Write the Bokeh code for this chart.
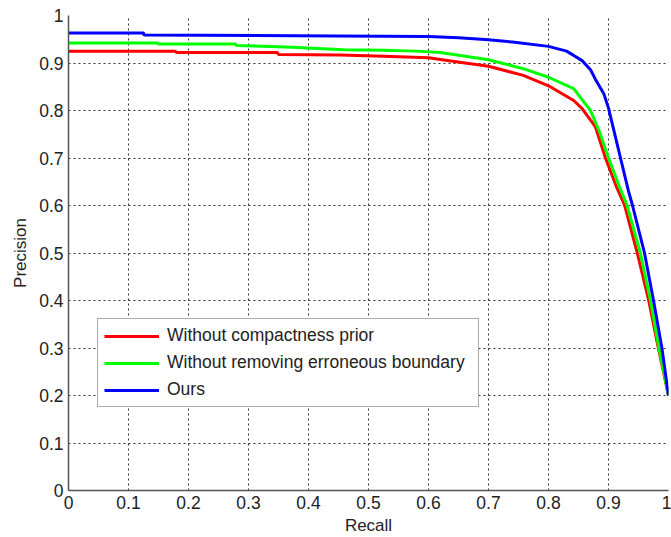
from bokeh.plotting import figure
from bokeh.models import Legend, LegendItem, FixedTicker, Range1d
from bokeh.embed import file_html
from bokeh.resources import INLINE

# Data
ours_recall = [0, 0.125, 0.126, 0.445, 0.6, 0.65, 0.7, 0.74, 0.8, 0.83, 0.842, 0.856,
               0.87, 0.878, 0.892, 0.9, 0.92, 0.933, 0.94, 0.96, 0.975, 0.989, 1.0]
ours_precision = [0.963, 0.963, 0.959, 0.957, 0.956, 0.953, 0.949, 0.944, 0.935, 0.925, 0.916, 0.905,
                  0.886, 0.866, 0.836, 0.805, 0.7, 0.632, 0.6, 0.5, 0.4, 0.3, 0.2]

noremove_recall = [0, 0.148, 0.15, 0.278, 0.28, 0.373, 0.458, 0.525, 0.58, 0.62, 0.7, 0.758,
                   0.8, 0.842, 0.856, 0.87, 0.885, 0.9, 0.918, 0.931, 0.953, 0.97, 0.984, 1.0]
noremove_precision = [0.942, 0.942, 0.940, 0.940, 0.937, 0.933, 0.928, 0.927, 0.925, 0.922, 0.907, 0.888,
                      0.87, 0.846, 0.823, 0.8, 0.755, 0.7, 0.64, 0.6, 0.5, 0.4, 0.3, 0.2]

nocompact_recall = [0, 0.178, 0.18, 0.348, 0.35, 0.453, 0.525, 0.6, 0.637, 0.7, 0.758, 0.8,
                    0.842, 0.856, 0.878, 0.895, 0.913, 0.927, 0.948, 0.967, 0.983, 1.0]
nocompact_precision = [0.925, 0.925, 0.922, 0.922, 0.918, 0.917, 0.914, 0.911, 0.904, 0.893, 0.874, 0.852,
                       0.821, 0.804, 0.766, 0.7, 0.64, 0.6, 0.5, 0.4, 0.3, 0.2]

labels = ["Without compactness prior", "Without removing erroneous boundary", "Ours"]
colors = ["#ff0000", "#00ff00", "#0000ff"]
ticks = [0, 0.1, 0.2, 0.3, 0.4, 0.5, 0.6, 0.7, 0.8, 0.9, 1]

FONT = "Liberation Sans"

p = figure(width=671, height=537, output_backend="svg", toolbar_location=None,
           x_range=Range1d(0, 1), y_range=Range1d(0, 1),
           min_border_left=68, min_border_right=3, min_border_top=15, min_border_bottom=47)
p.outline_line_color = None
p.background_fill_color = "white"

r1 = p.line(nocompact_recall, nocompact_precision, line_color=colors[0], line_width=3)
r2 = p.line(noremove_recall, noremove_precision, line_color=colors[1], line_width=3)
r3 = p.line(ours_recall, ours_precision, line_color=colors[2], line_width=3)

for ax in (p.xaxis[0], p.yaxis[0]):
    ax.ticker = FixedTicker(ticks=ticks)
    ax.major_label_text_font = FONT
    ax.major_label_text_font_size = "17.5px"
    ax.major_label_text_color = "#222222"
    ax.axis_label_text_font = FONT
    ax.axis_label_text_font_size = "17px"
    ax.axis_label_text_font_style = "normal"
    ax.axis_label_text_color = "#222222"
    ax.axis_line_color = "#555555"
    ax.axis_line_width = 1.5
    ax.major_tick_out = 0
    ax.major_tick_in = 0
    ax.minor_tick_out = 0
    ax.minor_tick_in = 0
    ax.major_label_standoff = 5

p.xaxis.major_label_overrides = {0: "0", 1: "1"}
p.yaxis.major_label_overrides = {0: "0", 1: "1"}
p.xaxis.axis_label = "Recall"
p.yaxis.axis_label = "Precision"
p.xaxis.axis_label_standoff = 4
p.yaxis.axis_label_standoff = 6

for g in (p.xgrid[0], p.ygrid[0]):
    g.ticker = FixedTicker(ticks=ticks)
    g.grid_line_color = "#333333"
    g.grid_line_dash = "2 3"
    g.grid_line_width = 1

legend = Legend(items=[LegendItem(label=labels[0], renderers=[r1]),
                       LegendItem(label=labels[1], renderers=[r2]),
                       LegendItem(label=labels[2], renderers=[r3])],
                location=(29, 83))
legend.label_text_font = FONT
legend.label_text_font_size = "17.5px"
legend.label_text_color = "#222222"
legend.glyph_width = 55
legend.glyph_height = 20
legend.label_height = 20
legend.label_width = 305
legend.spacing = 6
legend.padding = 6
legend.margin = 0
legend.label_standoff = 8
legend.border_line_color = "#555555"
legend.border_line_width = 1
legend.background_fill_alpha = 1
p.add_layout(legend)

open("out.html", "w").write(file_html(p, INLINE))
